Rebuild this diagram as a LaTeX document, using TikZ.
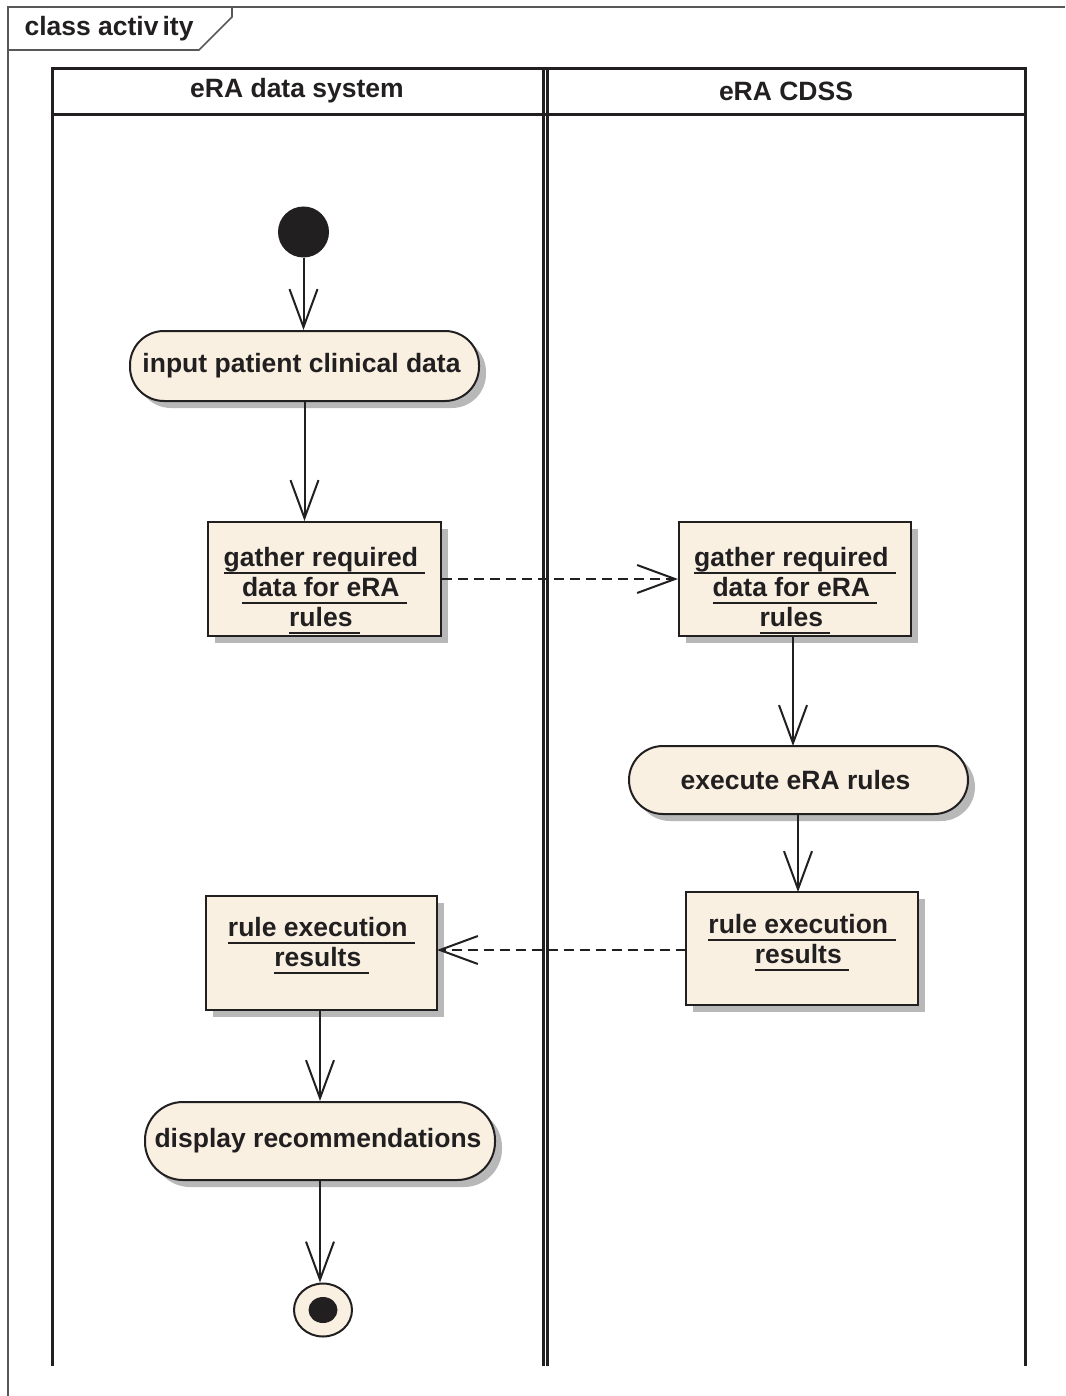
\documentclass[tikz,border=0pt]{standalone}
\usepackage{fontspec}
\setmainfont{Liberation Sans}
\usetikzlibrary{arrows.meta,shadows,shapes.geometric}

\definecolor{actfill}{RGB}{249,240,226}
\definecolor{ink}{RGB}{34,31,32}

% underlined line of an object name, rule at a fixed depth below the baseline
\newsavebox\ulbox
\newcommand\uln[1]{\sbox\ulbox{#1}\rlap{\rule[-7.5pt]{\wd\ulbox}{1.8pt}}\usebox\ulbox}
% invisible struts that move a text block down or up inside its box
\newcommand\pushdown[1]{\rule{0pt}{#1}}
\newcommand\pushup[1]{\rule[-#1]{0pt}{0pt}}

\begin{document}
\begin{tikzpicture}[x=1pt,y=-1pt,
  every node/.style={font=\fontsize{26.5}{30}\selectfont\bfseries, text=ink},
  shade/.style={drop shadow={shadow xshift=7pt,shadow yshift=-7pt,fill=black!28,opacity=1}},
  action/.style={draw=ink,line width=2pt,fill=actfill,shade,rounded corners=34pt,inner sep=0pt,align=center},
  objbox/.style={draw=ink,line width=2pt,fill=actfill,shade,inner sep=0pt,align=center},
  flow/.style={draw=ink,line width=2pt,-{Straight Barb[length=38pt,width=28pt]}},
  objflow/.style={flow,dash pattern=on 10pt off 6pt},
  lane/.style={draw=ink,line width=3pt},
  frameline/.style={draw=ink!75,line width=1.6pt},
]
\useasboundingbox (0,0) rectangle (1065,1396);

% diagram frame and its name tab
\draw[frameline] (8,1396) -- (8,7) -- (1065,7);
\draw[frameline] (232,7) -- (232,17) -- (199,50) -- (8,50);
\node[anchor=base west] (framename) at (21,36) {class activ\kern4pt ity};

% swimlanes
\draw[lane] (52,1366) -- (52,69) -- (1025,69) -- (1025,1366);
\draw[lane] (52,115) -- (1025,115);
\draw[lane] (543.5,69) -- (543.5,1366);
\draw[lane] (547.5,69) -- (547.5,1366);
\node (laneA) at (297,91) {eRA data system};
\node (laneB) at (786,91) {eRA CDSS};

% activity nodes
\node[circle,fill=ink,inner sep=0pt,minimum size=51pt] (init) at (303.5,232) {};
\node[action,minimum width=349pt,minimum height=70pt] (input) at (304.5,366) {input patient clinical data\kern6pt};
\node[objbox,minimum width=233pt,minimum height=114pt] (gatherL) at (324.5,579)
  {\pushdown{43pt}\uln{gather required\ }\\\uln{data for eRA\ }\\\uln{rules\ }};
\node[objbox,minimum width=232pt,minimum height=114pt] (gatherR) at (795,579)
  {\pushdown{43pt}\uln{gather required\ }\\\uln{data for eRA\ }\\\uln{rules\ }};
\node[action,minimum width=339pt,minimum height=68pt] (execute) at (798.5,780) {execute eRA rules\kern6pt};
\node[objbox,minimum width=232pt,minimum height=113pt] (resultR) at (802,948.5)
  {\uln{rule execution\ }\\\uln{results\ }\pushup{20pt}};
\node[objbox,minimum width=231pt,minimum height=114pt] (resultL) at (321.5,953)
  {\uln{rule execution\ }\\\uln{results\ }\pushup{22pt}};
\node[action,minimum width=350pt,minimum height=78pt,rounded corners=38pt] (display) at (320,1141) {display recommendations\kern4pt};
\node[ellipse,draw=ink,line width=2pt,fill=actfill,inner sep=0pt,minimum width=58pt,minimum height=53pt] (final) at (323,1310) {};
\node[ellipse,fill=ink,inner sep=0pt,minimum width=29pt,minimum height=26pt] (finaldot) at (323,1310) {};

% control flows
\draw[flow] (init) -- (init |- input.north);
\draw[flow] (input.south) -- (input.south |- gatherL.north);
\draw[flow] (793,636) -- (793,746);
\draw[flow] (798,814) -- (798,892);
\draw[flow] (resultL.south -| display.north) -- (display.north);
\draw[flow] (display.south) -- (display.south |- final.north);

% object flows between the lanes
\draw[objflow] (gatherL.east) -- (gatherR.west);
\draw[objflow] (686,950) -- (437,950);
\end{tikzpicture}
\end{document}
